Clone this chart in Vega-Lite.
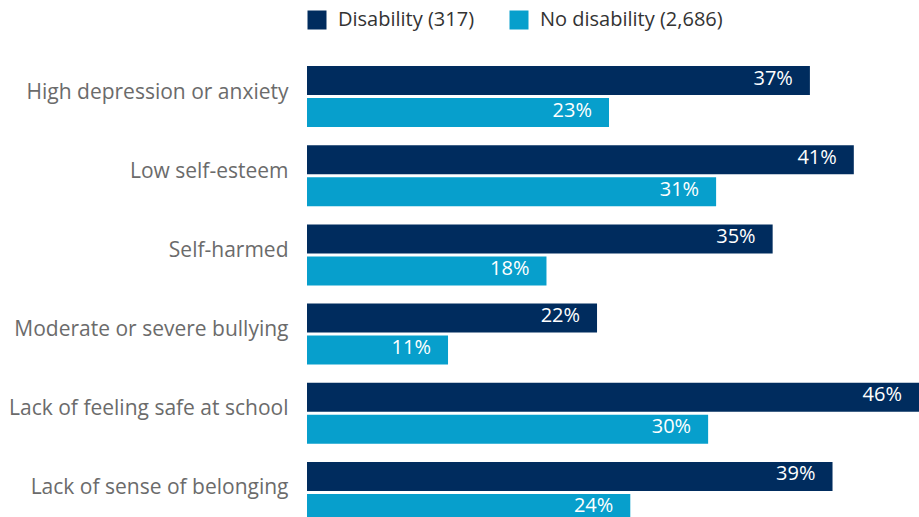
{
  "$schema": "https://vega.github.io/schema/vega-lite/v6.json",
  "width": 612,
  "height": 460,
  "autosize": "none",
  "padding": {"left": 307, "top": 57, "right": 0, "bottom": 0},
  "background": "white",
  "data": {
    "values": [
      {"measure": "High depression or anxiety", "group": "Disability (317)", "value": 37.8, "label": "37%"},
      {"measure": "High depression or anxiety", "group": "No disability (2,686)", "value": 22.7, "label": "23%"},
      {"measure": "Low self-esteem", "group": "Disability (317)", "value": 41.1, "label": "41%"},
      {"measure": "Low self-esteem", "group": "No disability (2,686)", "value": 30.75, "label": "31%"},
      {"measure": "Self-harmed", "group": "Disability (317)", "value": 35.0, "label": "35%"},
      {"measure": "Self-harmed", "group": "No disability (2,686)", "value": 18.0, "label": "18%"},
      {"measure": "Moderate or severe bullying", "group": "Disability (317)", "value": 21.8, "label": "22%"},
      {"measure": "Moderate or severe bullying", "group": "No disability (2,686)", "value": 10.6, "label": "11%"},
      {"measure": "Lack of feeling safe at school", "group": "Disability (317)", "value": 46, "label": "46%"},
      {"measure": "Lack of feeling safe at school", "group": "No disability (2,686)", "value": 30.15, "label": "30%"},
      {"measure": "Lack of sense of belonging", "group": "Disability (317)", "value": 39.5, "label": "39%"},
      {"measure": "Lack of sense of belonging", "group": "No disability (2,686)", "value": 24.3, "label": "24%"}
    ]
  },
  "encoding": {
    "y": {
      "field": "measure",
      "type": "nominal",
      "sort": ["High depression or anxiety", "Low self-esteem", "Self-harmed", "Moderate or severe bullying", "Lack of feeling safe at school", "Lack of sense of belonging"],
      "scale": {"range": [0, 475], "paddingInner": 0.23, "paddingOuter": 0.115},
      "title": null,
      "axis": {
        "domain": false,
        "ticks": false,
        "labelPadding": 19,
        "labelOffset": -4,
        "labelFont": "Open Sans",
        "labelFontSize": 21,
        "labelColor": "#6b6b6b",
        "labelLimit": 320
      }
    },
    "yOffset": {
      "field": "group",
      "type": "nominal",
      "sort": ["Disability (317)", "No disability (2,686)"],
      "scale": {"paddingInner": 0.094, "paddingOuter": 0}
    },
    "x": {
      "field": "value",
      "type": "quantitative",
      "scale": {"domain": [0, 46], "nice": false, "zero": true},
      "axis": null
    }
  },
  "layer": [
    {
      "mark": {"type": "bar", "clip": true},
      "encoding": {
        "color": {
          "field": "group",
          "type": "nominal",
          "sort": ["Disability (317)", "No disability (2,686)"],
          "scale": {"domain": ["Disability (317)", "No disability (2,686)"], "range": ["#002C5E", "#079FCC"]},
          "legend": {
            "title": null,
            "orient": "none",
            "legendX": 0,
            "legendY": -47,
            "direction": "horizontal",
            "symbolType": "square",
            "symbolSize": 361,
            "symbolStrokeWidth": 0,
            "labelFont": "Open Sans",
            "labelFontSize": 20,
            "labelColor": "#333333",
            "labelOffset": 11,
            "labelLimit": 400,
            "columnPadding": 34
          }
        }
      }
    },
    {
      "mark": {"type": "text", "align": "right", "baseline": "middle", "dx": -17, "dy": -2, "color": "white", "font": "Open Sans", "fontSize": 20},
      "encoding": {"text": {"field": "label"}}
    }
  ],
  "config": {"view": {"stroke": null}}
}
